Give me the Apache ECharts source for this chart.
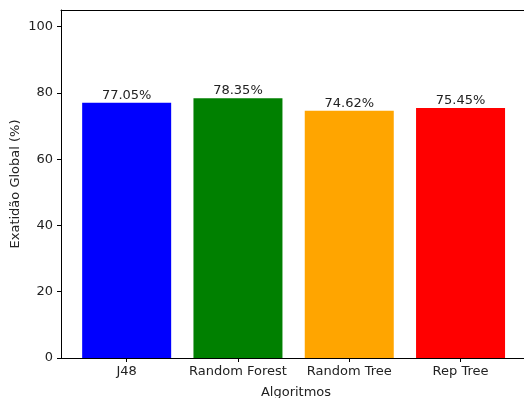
<!DOCTYPE html>
<html>
<head>
<meta charset="utf-8">
<script src="https://cdn.jsdelivr.net/npm/echarts@6/dist/echarts.min.js"></script>
<style>
  html, body { margin: 0; padding: 0; background: #fff; overflow: hidden; }
  #chart { width: 524px; height: 398px; }
</style>
</head>
<body>
<div id="chart"></div>
<script>
// Global accuracy of each classifier
const algorithms = ['J48', 'Random Forest', 'Random Tree', 'Rep Tree'];
const accuracy = [77.05, 78.35, 74.62, 75.45];
const barColors = ['#0000ff', '#008000', '#ffa500', '#ff0000'];
const yTicks = [0, 20, 40, 60, 80, 100];

const FONT = 'DejaVu Sans';
const FS = 13;
const positions = algorithms.map((_, i) => i);

// x extent: bars of width 0.8 plus a 5% margin on both sides; the plot
// continues slightly past the right edge of the canvas
const X_MIN = -0.59;
const X_MAX = 3.633;
const PLOT_W = 470;

const chart = echarts.init(document.getElementById('chart'), null, { renderer: 'canvas' });

chart.setOption({
  animation: false,
  backgroundColor: '#ffffff',
  grid: {
    left: 61, top: 10, width: PLOT_W, height: 348,
    outerBoundsMode: 'none',
    containLabel: false
  },
  xAxis: [{
    type: 'value',
    min: X_MIN, max: X_MAX,
    splitLine: { show: false },
    axisLine: { show: true, onZero: false, lineStyle: { color: '#000', width: 1 } },
    axisTick: { show: true, customValues: positions, length: 4, inside: false, lineStyle: { color: '#000' } },
    axisLabel: {
      customValues: positions,
      formatter: v => algorithms[Math.round(v)] || '',
      color: '#222', fontFamily: FONT, fontSize: FS, margin: 7
    },
    name: 'Algoritmos',
    nameLocation: 'middle',
    nameGap: 28,
    nameMoveOverlap: false,
    nameTextStyle: { color: '#222', fontFamily: FONT, fontSize: FS }
  }, {
    type: 'value',
    position: 'top',
    min: X_MIN, max: X_MAX,
    splitLine: { show: false },
    axisTick: { show: false },
    axisLabel: { show: false },
    axisLine: { show: true, onZero: false, lineStyle: { color: '#000', width: 1 } }
  }],
  yAxis: {
    type: 'value',
    min: 0, max: 105,
    splitLine: { show: false },
    axisLine: { show: true, onZero: false, lineStyle: { color: '#000', width: 1 } },
    axisTick: { show: true, customValues: yTicks, length: 4, lineStyle: { color: '#000' } },
    axisLabel: {
      customValues: yTicks,
      color: '#222', fontFamily: FONT, fontSize: FS, margin: 8
    },
    name: 'Exatidão Global (%)',
    nameLocation: 'middle',
    nameGap: 39,
    nameMoveOverlap: false,
    nameTextStyle: { color: '#222', fontFamily: FONT, fontSize: FS }
  },
  series: [{
    type: 'bar',
    xAxisIndex: 0,
    barWidth: 89,
    data: accuracy.map((v, i) => ({
      value: [positions[i], v],
      itemStyle: { color: barColors[i] }
    })),
    label: {
      show: true,
      position: 'top',
      distance: 1,
      formatter: p => p.value[1].toFixed(2) + '%',
      color: '#222', fontFamily: FONT, fontSize: FS
    }
  }]
});
</script>
</body>
</html>
